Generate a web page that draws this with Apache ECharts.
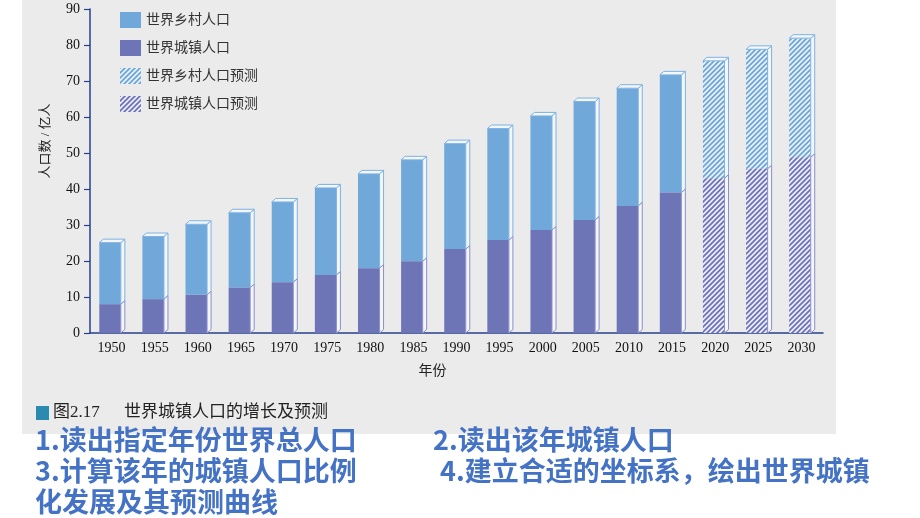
<!DOCTYPE html>
<html><head><meta charset="utf-8">
<script src="https://cdn.jsdelivr.net/npm/echarts@6/dist/echarts.min.js"></script>
<style>html,body{margin:0;padding:0;background:#fff}#c{width:920px;height:518px}</style>
</head><body><div id="c"></div>
<script>
// ---- data (亿人) ----
const years = ['1950','1955','1960','1965','1970','1975','1980','1985','1990','1995','2000','2005','2010','2015','2020','2025','2030'];
const urban = [8.0, 9.4, 10.6, 12.6, 14.1, 16.1, 18.0, 19.9, 23.3, 25.8, 28.6, 31.4, 35.3, 39.0, 43.0, 45.6, 48.8];
const rural = [17.1, 17.4, 19.6, 20.8, 22.3, 24.2, 26.2, 28.2, 29.3, 31.0, 31.7, 32.9, 32.7, 32.7, 32.6, 33.2, 33.1];
const forecastFrom = '2020';
const yTicks = {min: 0, max: 90, step: 10};
const names = ['世界乡村人口', '世界城镇人口', '世界乡村人口预测', '世界城镇人口预测'];
const lines = [
  ['1.读出指定年份世界总人口', '2.读出该年城镇人口'],
  ['3.计算该年的城镇人口比例', '4.建立合适的坐标系，绘出世界城镇'],
  ['化发展及其预测曲线']
];

const ruralColor = '#6fa8d9', urbanColor = '#6e75b7';
const faceFill = '#f4f6fb';
function hatch(fg, bg) {
  const p = 5; const c = document.createElement('canvas'); c.width = p; c.height = p;
  const g = c.getContext('2d'); g.fillStyle = bg; g.fillRect(0, 0, p, p);
  g.strokeStyle = fg; g.lineWidth = 1.8; g.beginPath();
  g.moveTo(-1, p + 1); g.lineTo(p + 1, -1);
  g.moveTo(-1, 1); g.lineTo(1, -1);
  g.moveTo(p - 1, p + 1); g.lineTo(p + 1, p - 1);
  g.stroke();
  return {image: c, repeat: 'repeat'};
}
const ruralHatch = hatch('#6aa6db', '#eef2f8');
const urbanHatch = hatch('#6c72bf', '#eeeff7');

const fIdx = years.indexOf(forecastFrom);
function build(kind, forecast) {
  const out = [];
  years.forEach((y, i) => {
    if ((i >= fIdx) !== forecast) return;
    if (kind === 'urban') out.push([i, 0, urban[i], 0]);
    else out.push([i, urban[i], urban[i] + rural[i], 1]);
  });
  return out;
}
function render(fill, stroke) {
  return function (params, api) {
    const i = api.value(0), lo = api.value(1), hi = api.value(2), top = api.value(3);
    const a = api.coord([i, lo]), b = api.coord([i, hi]);
    const band = api.size([1, 0])[0];
    const w = band * 0.5, dx = 4, dy = 3.5;
    const xl = a[0] - w / 2 - 1.5, xr = xl + w, yb = a[1], yt = b[1];
    const ch = [
      {type: 'rect', shape: {x: xl, y: yt, width: w, height: yb - yt}, style: {fill: fill}},
      {type: 'polygon', shape: {points: [[xr, yt], [xr + dx, yt - dy], [xr + dx, yb - dy], [xr, yb]]},
        style: {fill: faceFill, stroke: stroke, lineWidth: 1}}
    ];
    if (top) ch.push({type: 'polygon', shape: {points: [[xl, yt], [xl + dx, yt - dy], [xr + dx, yt - dy], [xr, yt]]},
      style: {fill: faceFill, stroke: stroke, lineWidth: 1}});
    return {type: 'group', children: ch};
  };
}
function series(name, kind, forecast, fill, stroke) {
  return {type: 'custom', name: name, renderItem: render(fill, stroke), itemStyle: {color: fill},
    encode: {x: 0, y: [1, 2]}, data: build(kind, forecast)};
}

const serif = "'Liberation Serif', 'Noto Sans CJK SC', serif";
const axisColor = '#27408b';
const graphics = [
  {type: 'rect', z: -100, shape: {x: 22, y: 0, width: 814, height: 434}, style: {fill: '#ebebeb'}},
  {type: 'rect', shape: {x: 36, y: 406, width: 13, height: 14}, style: {fill: '#2a8ab0'}},
  {type: 'text', x: 53, y: 413, style: {text: '图2.17', font: "17px " + serif, fill: '#222', verticalAlign: 'middle'}},
  {type: 'text', x: 124, y: 413, style: {text: '世界城镇人口的增长及预测', font: "17px " + serif, fill: '#222', verticalAlign: 'middle'}}
];
const lx = [[35, 433], [35, 440], [35]], ly = [440, 471, 502];
lines.forEach((row, r) => row.forEach((t, k) => graphics.push({type: 'text', x: lx[r][k], y: ly[r],
  style: {text: t, font: "bold 27px 'Noto Sans CJK SC', sans-serif", fill: '#4472c4', verticalAlign: 'middle'}})));

const chart = echarts.init(document.getElementById('c'));
chart.setOption({
  backgroundColor: '#fff',
  animation: false,
  grid: {left: 90, right: 97, top: 9, bottom: 185},
  legend: {data: names, orient: 'vertical', left: 115, top: 7, itemWidth: 21, itemHeight: 16, itemGap: 12,
    icon: 'rect', selectedMode: false, textStyle: {fontSize: 14, color: '#333', fontFamily: serif}},
  xAxis: {type: 'category', data: years, boundaryGap: true,
    axisLine: {lineStyle: {color: axisColor, width: 1.5}},
    axisTick: {length: 7, lineStyle: {color: axisColor, width: 1.2}},
    axisLabel: {interval: 0, color: '#111', fontSize: 14, fontFamily: serif, margin: 8},
    name: '年份', nameLocation: 'middle', nameGap: 31,
    nameTextStyle: {fontSize: 14, color: '#222', fontFamily: serif, padding: [0, 48, 0, 0]}},
  yAxis: {type: 'value', min: yTicks.min, max: yTicks.max, interval: yTicks.step,
    axisLine: {show: true, lineStyle: {color: axisColor, width: 1.5}},
    axisTick: {show: true, length: 6, lineStyle: {color: axisColor, width: 1.2}},
    splitLine: {show: false},
    axisLabel: {color: '#111', fontSize: 14, fontFamily: serif, margin: 10},
    name: '人口数 / 亿人', nameLocation: 'middle', nameRotate: 90, nameGap: 38,
    nameTextStyle: {fontSize: 13, color: '#222', fontFamily: serif, padding: [0, 0, 0, 60]}},
  series: [
    series(names[0], 'rural', false, ruralColor, '#7db3e2'),
    series(names[1], 'urban', false, urbanColor, '#8a8fca'),
    series(names[2], 'rural', true, ruralHatch, '#7db3e2'),
    series(names[3], 'urban', true, urbanHatch, '#8a8fca')
  ],
  graphic: graphics
});
</script></body></html>
